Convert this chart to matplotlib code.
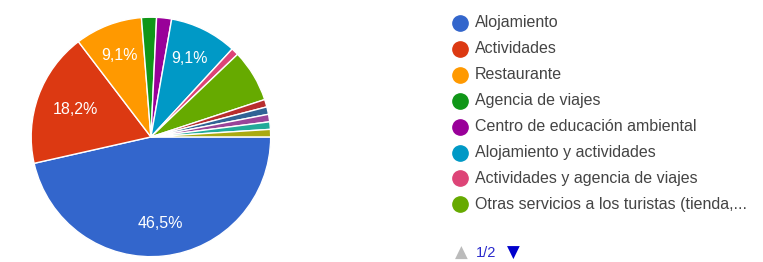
import matplotlib.pyplot as plt

# respuestas por categoría (99 en total); solo la página 1/2 de la leyenda se ve
categorias = ["Alojamiento", "Actividades", "Restaurante", "Agencia de viajes",
              "Centro de educación ambiental", "Alojamiento y actividades",
              "Actividades y agencia de viajes",
              "Otras servicios a los turistas (tienda,...",
              "", "", "", "", ""]
respuestas = [46, 18, 9, 2, 2, 9, 1, 7, 1, 1, 1, 1, 1]
colores = ["#3366cc", "#dc3912", "#ff9900", "#109618", "#990099", "#0099c6",
           "#dd4477", "#66aa00", "#b82e2e", "#316395", "#994499", "#22aa99",
           "#aaaa11"]
en_leyenda = 8

plt.rcParams['font.family'] = ['Liberation Sans', 'DejaVu Sans']

fig = plt.figure(figsize=(7.63, 2.62), dpi=100)
ax = fig.add_axes([0.0393, 0.0153, 0.317, 0.924])


def etiqueta(p):
    # solo las porciones grandes llevan texto, con coma decimal
    if p < 9:
        return ""
    return f"{p:.1f}%".replace(".", ",")


wedges, _, autotexts = ax.pie(respuestas, colors=colores, startangle=0,
                              counterclock=False, autopct=etiqueta,
                              pctdistance=0.73,
                              wedgeprops=dict(edgecolor="white", linewidth=1))
for t in autotexts:
    t.set_color("white")
    t.set_fontsize(11.5)
# la etiqueta de Actividades va un poco más al centro
x, y = autotexts[1].get_position()
autotexts[1].set_position((x * 0.92, y * 0.92))
ax.set_xlim(-1.01, 1.01)
ax.set_ylim(-1.01, 1.01)
ax.set_aspect("equal")

# leyenda dibujada a mano (posiciones en píxeles de la figura)
leg = fig.add_axes([0, 0, 1, 1])
leg.set_xlim(0, 763)
leg.set_ylim(262, 0)
leg.axis("off")
for i in range(en_leyenda):
    y = 23 + i * 25.9
    leg.plot(460, y, "o", color=colores[i], markersize=11)
    leg.text(475, y, categorias[i], va="center", ha="left",
             fontsize=11.5, color="#444444")

# paginación
leg.text(461, 253, "▲", va="center", ha="center", fontsize=12, color="#bbbbbb",
         family=["DejaVu Sans"])
leg.text(476, 253, "1/2", va="center", ha="left", fontsize=10.5, color="#2a2acc")
leg.text(513, 253, "▼", va="center", ha="center", fontsize=12, color="#0000cc",
         family=["DejaVu Sans"])

fig.savefig("out.png", dpi=100)
